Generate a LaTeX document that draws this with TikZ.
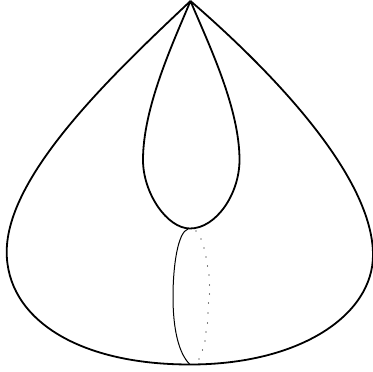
\documentclass[tikz,border=0pt]{standalone}
\begin{document}
\begin{tikzpicture}[x=1pt,y=-1pt,
  heavy/.style={line width=1.8pt,line join=round},
  thin line/.style={line width=1pt},
  dotmark/.style={fill=black,circle,inner sep=0pt,minimum size=1.3pt}]
\useasboundingbox (0,0) rectangle (373,372);
\coordinate (apex) at (190.5,1);
\coordinate (lo) at (190,228.5);
\coordinate (bot) at (190,364.5);
% outer
\draw[heavy] (apex) .. controls (112,75) and (6.7,175) .. (6.7,252)
  .. controls (6.7,317) and (75,364.5) .. (bot)
  .. controls (300,364.5) and (373,315) .. (373,255)
  .. controls (373,178) and (276,75) .. (apex);
% inner
\draw[heavy] (apex) .. controls (172,45) and (143,108) .. (143,160)
  .. controls (143,193) and (167,228.5) .. (lo)
  .. controls (216,228.5) and (239.5,194) .. (239.5,160)
  .. controls (239.5,108) and (209,45) .. (apex);
% ellipse
\draw[thin line] (188,229) .. controls (178,232) and (173,265) .. (173,297)
  .. controls (173,330) and (179,354) .. (bot);
\foreach \px/\py in {196/231,201/239,204/248,206/257,207.5/266,209/275,209.5/285,209.5/294,208.5/303,208/313,207.5/323,206/332,205/341,202.5/350,199/359}
  \node[dotmark] at (\px,\py) {};
\end{tikzpicture}
\end{document}
